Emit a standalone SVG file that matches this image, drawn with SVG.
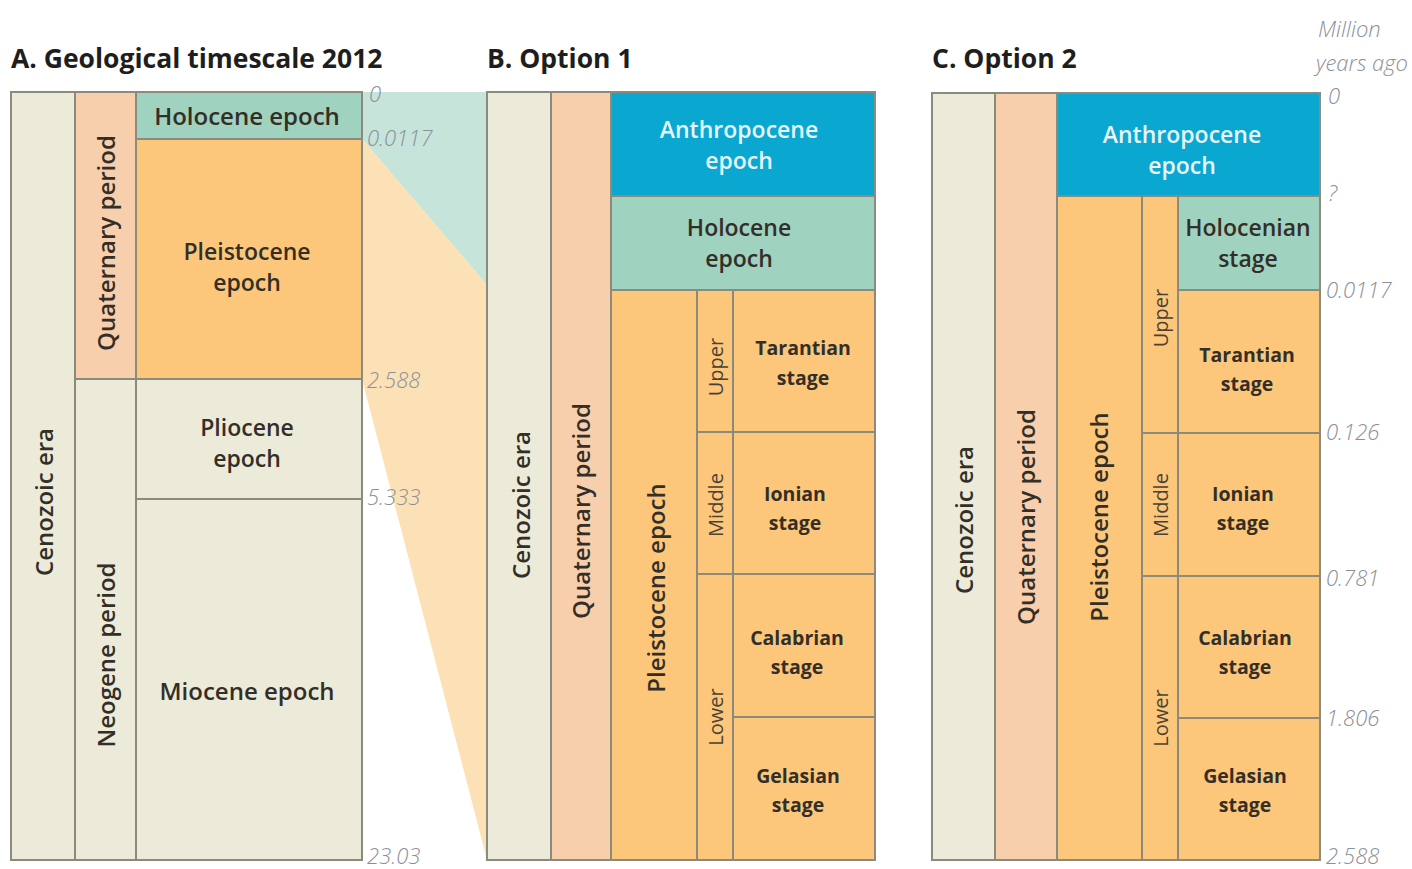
<svg xmlns="http://www.w3.org/2000/svg" width="1412" height="869" viewBox="0 0 1412 869">
<style>
.bx{stroke:#8b8a7c;stroke-width:2}
.era{fill:#ecebd9}
.per{fill:#f8cfac}
.hol{fill:#9fd2bf}
.ple{fill:#fcc77a}
.ant{fill:#0aa7d1}
.t{font-family:"Open Sans","Liberation Sans",sans-serif;font-weight:600;fill:#332f28;text-anchor:middle;dominant-baseline:central}
.lab{font-size:24px}
.lab2{font-size:23px}
.stg{font-size:19.5px;font-weight:700}
.sub{font-size:20px;font-weight:400;fill:#4a4236}
.w{fill:#e6f5fb}
.num{font-family:"Open Sans","Liberation Sans",sans-serif;font-style:italic;font-weight:300;fill:#8a909a;font-size:22px}
.title{font-family:"Open Sans","Liberation Sans",sans-serif;font-weight:700;font-size:26.5px;fill:#1e1e1e}
</style>

<g id="titles">
<text class="title" x="11" y="68">A. Geological timescale 2012</text>
<text class="title" x="487" y="68">B. Option 1</text>
<text class="title" x="932" y="68">C. Option 2</text>
</g>

<g id="funnels">
<polygon points="362,92 487,92 487,285 362,139" fill="#c6e4d9"/>
<polygon points="362,139 487,285 487,860 362,379" fill="#fde1b6"/>
</g>

<g id="panelA">
<g id="A-cenozoic"><rect class="bx era" x="11" y="92" width="64" height="768"/><text class="t lab" transform="translate(43,502) rotate(-90)">Cenozoic era</text></g>
<g id="A-quaternary"><rect class="bx per" x="75" y="92" width="61" height="287"/><text class="t lab" transform="translate(105,243) rotate(-90)">Quaternary period</text></g>
<g id="A-neogene"><rect class="bx era" x="75" y="379" width="61" height="481"/><text class="t lab" transform="translate(105,655) rotate(-90)">Neogene period</text></g>
<g id="A-holocene"><rect class="bx hol" x="136" y="92" width="226" height="47"/><text class="t lab" x="247" y="115">Holocene epoch</text></g>
<g id="A-pleistocene"><rect class="bx ple" x="136" y="139" width="226" height="240"/><text class="t lab2" x="247" y="251">Pleistocene</text><text class="t lab2" x="247" y="282">epoch</text></g>
<g id="A-pliocene"><rect class="bx era" x="136" y="379" width="226" height="120"/><text class="t lab2" x="247" y="427">Pliocene</text><text class="t lab2" x="247" y="458">epoch</text></g>
<g id="A-miocene"><rect class="bx era" x="136" y="499" width="226" height="361"/><text class="t lab" x="247" y="690">Miocene epoch</text></g>
<g id="A-scale">
<text class="num" x="369" y="102">0</text>
<text class="num" x="367" y="146">0.0117</text>
<text class="num" x="367" y="388">2.588</text>
<text class="num" x="367" y="505">5.333</text>
<text class="num" x="367" y="864">23.03</text>
</g>
</g>

<g id="panelB">
<g id="B-cenozoic"><rect class="bx era" x="487" y="92" width="64" height="768"/><text class="t lab" transform="translate(520,505) rotate(-90)">Cenozoic era</text></g>
<g id="B-quaternary"><rect class="bx per" x="551" y="92" width="60" height="768"/><text class="t lab" transform="translate(580,511) rotate(-90)">Quaternary period</text></g>
<g id="B-anthropocene"><rect class="bx ant" x="611" y="92" width="264" height="104"/><text class="t lab2 w" x="739" y="129">Anthropocene</text><text class="t lab2 w" x="739" y="160">epoch</text></g>
<g id="B-holocene"><rect class="bx hol" x="611" y="196" width="264" height="94"/><text class="t lab2" x="739" y="227">Holocene</text><text class="t lab2" x="739" y="258">epoch</text></g>
<g id="B-pleistocene"><rect class="bx ple" x="611" y="290" width="86" height="570"/><text class="t lab" transform="translate(655,588) rotate(-90)">Pleistocene epoch</text></g>
<g id="B-upper"><rect class="bx ple" x="697" y="290" width="36" height="142"/><text class="t sub" transform="translate(715,367) rotate(-90)">Upper</text></g>
<g id="B-middle"><rect class="bx ple" x="697" y="432" width="36" height="142"/><text class="t sub" transform="translate(715,505) rotate(-90)">Middle</text></g>
<g id="B-lower"><rect class="bx ple" x="697" y="574" width="36" height="286"/><text class="t sub" transform="translate(715,717) rotate(-90)">Lower</text></g>
<g id="B-tarantian"><rect class="bx ple" x="733" y="290" width="142" height="142"/><text class="t stg" x="803" y="347">Tarantian</text><text class="t stg" x="803" y="377">stage</text></g>
<g id="B-ionian"><rect class="bx ple" x="733" y="432" width="142" height="142"/><text class="t stg" x="795" y="493">Ionian</text><text class="t stg" x="795" y="522">stage</text></g>
<g id="B-calabrian"><rect class="bx ple" x="733" y="574" width="142" height="143"/><text class="t stg" x="797" y="637">Calabrian</text><text class="t stg" x="797" y="666">stage</text></g>
<g id="B-gelasian"><rect class="bx ple" x="733" y="717" width="142" height="143"/><text class="t stg" x="798" y="775">Gelasian</text><text class="t stg" x="798" y="804">stage</text></g>
</g>

<g id="panelC">
<g id="C-cenozoic"><rect class="bx era" x="932" y="93" width="63" height="767"/><text class="t lab" transform="translate(963,520) rotate(-90)">Cenozoic era</text></g>
<g id="C-quaternary"><rect class="bx per" x="995" y="93" width="62" height="767"/><text class="t lab" transform="translate(1025,517) rotate(-90)">Quaternary period</text></g>
<g id="C-anthropocene"><rect class="bx ant" x="1057" y="93" width="263" height="103"/><text class="t lab2 w" x="1182" y="134">Anthropocene</text><text class="t lab2 w" x="1182" y="165">epoch</text></g>
<g id="C-pleistocene"><rect class="bx ple" x="1057" y="196" width="85" height="664"/><text class="t lab" transform="translate(1098,517) rotate(-90)">Pleistocene epoch</text></g>
<g id="C-upper"><rect class="bx ple" x="1142" y="196" width="36" height="237"/><text class="t sub" transform="translate(1160,318) rotate(-90)">Upper</text></g>
<g id="C-middle"><rect class="bx ple" x="1142" y="433" width="36" height="143"/><text class="t sub" transform="translate(1160,505) rotate(-90)">Middle</text></g>
<g id="C-lower"><rect class="bx ple" x="1142" y="576" width="36" height="284"/><text class="t sub" transform="translate(1160,718) rotate(-90)">Lower</text></g>
<g id="C-holocenian"><rect class="bx hol" x="1178" y="196" width="142" height="94"/><text class="t lab2" x="1248" y="227">Holocenian</text><text class="t lab2" x="1248" y="258">stage</text></g>
<g id="C-tarantian"><rect class="bx ple" x="1178" y="290" width="142" height="143"/><text class="t stg" x="1247" y="354">Tarantian</text><text class="t stg" x="1247" y="383">stage</text></g>
<g id="C-ionian"><rect class="bx ple" x="1178" y="433" width="142" height="143"/><text class="t stg" x="1243" y="493">Ionian</text><text class="t stg" x="1243" y="522">stage</text></g>
<g id="C-calabrian"><rect class="bx ple" x="1178" y="576" width="142" height="142"/><text class="t stg" x="1245" y="637">Calabrian</text><text class="t stg" x="1245" y="666">stage</text></g>
<g id="C-gelasian"><rect class="bx ple" x="1178" y="718" width="142" height="142"/><text class="t stg" x="1245" y="775">Gelasian</text><text class="t stg" x="1245" y="804">stage</text></g>
<g id="C-scale">
<text class="num" x="1318" y="37" font-size="23">Million</text>
<text class="num" x="1316" y="71" font-size="23">years ago</text>
<text class="num" x="1328" y="104">0</text>
<text class="num" x="1328" y="201">?</text>
<text class="num" x="1326" y="298">0.0117</text>
<text class="num" x="1326" y="440">0.126</text>
<text class="num" x="1326" y="586">0.781</text>
<text class="num" x="1326" y="726">1.806</text>
<text class="num" x="1326" y="864">2.588</text>
</g>
</g>
</svg>
